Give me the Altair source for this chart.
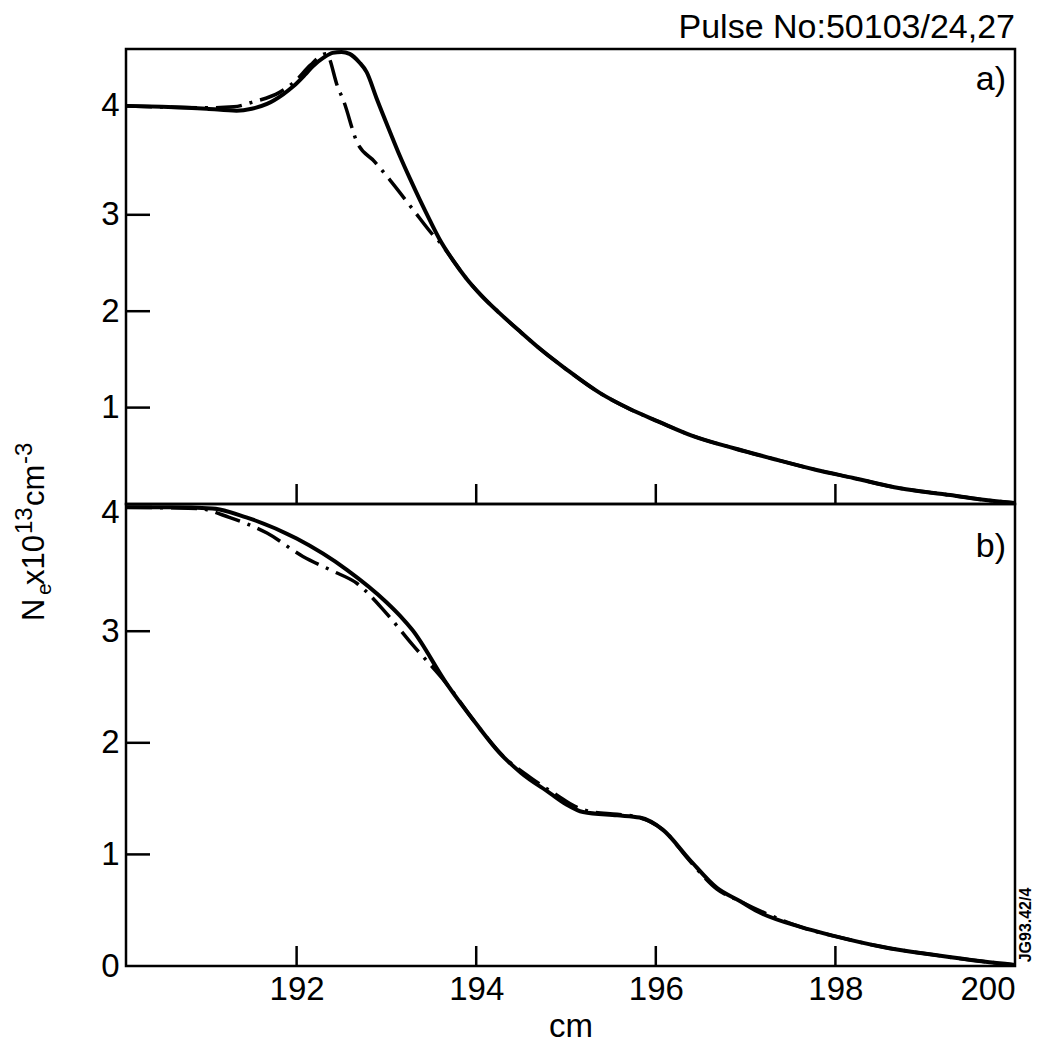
import altair as alt
import pandas as pd

# ---------------- data ----------------
# panel a) solid
x_top_solid = [190.1, 190.5, 191.0, 191.33, 191.5, 191.67, 191.85, 191.96, 192.1, 192.18, 192.3, 192.4,
               192.5, 192.59, 192.7, 192.78, 192.89, 193.04, 193.15, 193.26, 193.37, 193.48, 193.59,
               193.74, 193.89, 194.05, 194.26, 194.5, 194.71, 195.0, 195.38, 195.7, 196.03, 196.4,
               196.87, 197.3, 197.79, 198.2, 198.72, 199.28, 199.6, 200.0]
y_top_solid = [4.13, 4.12, 4.10, 4.08, 4.10, 4.15, 4.25, 4.33, 4.46, 4.54, 4.63, 4.68,
               4.69, 4.67, 4.58, 4.48, 4.21, 3.86, 3.61, 3.38, 3.16, 2.95, 2.75,
               2.53, 2.34, 2.17, 1.98, 1.78, 1.61, 1.40, 1.15, 0.99, 0.855, 0.71,
               0.578, 0.47, 0.353, 0.27, 0.163, 0.093, 0.05, 0.01]
# panel a) dash-dot
x_top_dash = [190.1, 191.0, 191.3, 191.51, 191.81, 192.0, 192.15, 192.33, 192.46, 192.52, 192.67,
              192.87, 193.04, 193.3, 193.52, 193.6, 193.74, 193.89, 194.05, 194.26, 194.5, 194.71,
              195.0, 195.38, 195.7, 196.03, 196.4, 196.87, 197.3, 197.79, 198.2, 198.72, 199.28,
              199.6, 200.0]
y_top_dash = [4.13, 4.11, 4.12, 4.17, 4.27, 4.40, 4.55, 4.67, 4.32, 4.19, 3.76,
              3.55, 3.36, 3.05, 2.79, 2.71, 2.53, 2.34, 2.17, 1.98, 1.78, 1.61,
              1.40, 1.15, 0.99, 0.855, 0.71, 0.578, 0.47, 0.353, 0.27, 0.163, 0.093,
              0.05, 0.01]
# panel b) solid
x_bot_solid = [190.1, 190.6, 191.06, 191.44, 192.0, 192.56, 193.0, 193.15, 193.29, 193.67, 194.0,
               194.26, 194.5, 194.82, 195.0, 195.19, 195.57, 195.82, 196.08, 196.38, 196.68,
               196.94, 197.13, 197.61, 197.98, 198.53, 199.09, 199.65, 200.0]
y_bot_solid = [4.11, 4.11, 4.10, 4.02, 3.83, 3.55, 3.26, 3.14, 3.01, 2.53, 2.17,
               1.91, 1.73, 1.55, 1.45, 1.38, 1.35, 1.33, 1.22, 0.95, 0.70,
               0.58, 0.49, 0.35, 0.27, 0.17, 0.10, 0.04, 0.01]
# panel b) dash-dot
x_bot_dash = [190.1, 190.9, 191.25, 191.67, 192.07, 192.4, 192.67, 193.0, 193.29, 193.67, 194.0,
              194.3, 194.6, 194.9, 195.1, 195.3, 195.57, 195.82, 196.08, 196.38, 196.68,
              196.94, 197.2, 197.61, 197.98, 198.53, 199.09, 199.65, 200.0]
y_bot_dash = [4.11, 4.10, 4.02, 3.88, 3.67, 3.54, 3.43, 3.16, 2.88, 2.53, 2.17,
              1.88, 1.69, 1.53, 1.43, 1.38, 1.36, 1.33, 1.22, 0.94, 0.69,
              0.58, 0.48, 0.35, 0.27, 0.17, 0.10, 0.04, 0.01]

x_tick_marks = [192, 194, 196, 198]
x_tick_labels = [192, 194, 196, 198, 200]
y_tick_marks = [1, 2, 3]
top_label_vals = [1, 2, 3, 4.13]
bot_label_vals = [0, 1, 2, 3, 4.06]

pulse_text = ["Pulse No:50103/24,27"]
panel_a = ["a)"]
panel_b = ["b)"]
ref_code = ["JG93.42/4"]
# y-axis title "N_e x10^13 cm^-3", written in pieces so sub/superscripts look right
y_title_parts = ["N", "e", "x10", "13", "cm", "-3"]
x_title = "cm"

# ---------------- layout ----------------
W = 889
H_TOP = 455
H_BOT = 462
X_DOMAIN = [190.1, 200]
Y_TOP_DOMAIN = [0, 4.72]
Y_BOT_DOMAIN = [0, 4.14]
FONT = "Liberation Sans"
FS = 33

# piece style: (font size, baseline x offset, anchor y in top-panel pixels)
title_style = [(31, -82, 572), (21, -75, 546), (31, -82, 536), (24, -94, 485), (31, -82, 457), (24, -94, 415)]


def lines(xs_s, ys_s, xs_d, ys_d, xscale, yscale, xaxis, yaxis):
    solid = alt.Chart(pd.DataFrame({"x": xs_s, "y": ys_s})).mark_line(
        color="black", strokeWidth=4, interpolate="monotone"
    ).encode(x=alt.X("x:Q", scale=xscale, axis=xaxis), y=alt.Y("y:Q", scale=yscale, axis=yaxis))
    dash = alt.Chart(pd.DataFrame({"x": xs_d, "y": ys_d})).mark_line(
        color="black", strokeWidth=3.5, interpolate="monotone", strokeDash=[26, 8, 3, 8]
    ).encode(x=alt.X("x:Q", scale=xscale), y=alt.Y("y:Q", scale=yscale))
    return solid, dash


def ticks(height, xscale, yscale):
    yt = alt.Chart(pd.DataFrame({"y": y_tick_marks})).mark_rule(color="black", strokeWidth=2.5).encode(
        y=alt.Y("y:Q", scale=yscale), x=alt.value(0), x2=alt.value(24)
    )
    xt = alt.Chart(pd.DataFrame({"x": x_tick_marks})).mark_rule(color="black", strokeWidth=2.5).encode(
        x=alt.X("x:Q", scale=xscale), y=alt.value(height), y2=alt.value(height - 20)
    )
    return yt, xt


def text_layer(txt, size, x, y, align="right", baseline="middle", angle=0, weight="normal"):
    return alt.Chart(pd.DataFrame({"t": [txt]})).mark_text(
        font=FONT, fontSize=size, align=align, baseline=baseline, angle=angle,
        fontWeight=weight, color="black"
    ).encode(text="t:N", x=alt.value(x), y=alt.value(y))


xs = alt.Scale(domain=X_DOMAIN, nice=False, zero=False)
ys_top = alt.Scale(domain=Y_TOP_DOMAIN, nice=False)
ys_bot = alt.Scale(domain=Y_BOT_DOMAIN, nice=False)

top_xaxis = alt.Axis(labels=False, ticks=False, domain=False, grid=False, title=None)
top_yaxis = alt.Axis(values=top_label_vals, labelExpr="format(datum.value, '.0f')", ticks=False,
                     domain=False, grid=False, labelPadding=7, labelFontSize=FS, title=None)
bot_xaxis = alt.Axis(values=x_tick_labels, format="d", ticks=False, domain=False, grid=False,
                     labelPadding=7, labelFontSize=FS, title=x_title, titleFontSize=FS,
                     titleFontWeight="normal", titlePadding=4)
bot_yaxis = alt.Axis(values=bot_label_vals, labelExpr="format(datum.value, '.0f')", ticks=False,
                     domain=False, grid=False, labelPadding=7, labelFontSize=FS, title=None)

s1, d1 = lines(x_top_solid, y_top_solid, x_top_dash, y_top_dash, xs, ys_top, top_xaxis, top_yaxis)
yt1, xt1 = ticks(H_TOP, xs, ys_top)
pulse = text_layer(pulse_text[0], 34, W, -11, baseline="alphabetic")
lab_a = text_layer(panel_a[0], 34, W - 9, 31)
title_layers = [
    text_layer(part, size, bx, ay, align="left", baseline="alphabetic", angle=270)
    for part, (size, bx, ay) in zip(y_title_parts, title_style)
]

top = alt.layer(s1, d1, yt1, xt1, pulse, lab_a, *title_layers).properties(width=W, height=H_TOP)

s2, d2 = lines(x_bot_solid, y_bot_solid, x_bot_dash, y_bot_dash, xs, ys_bot, bot_xaxis, bot_yaxis)
yt2, xt2 = ticks(H_BOT, xs, ys_bot)
lab_b = text_layer(panel_b[0], 34, W - 9, 43)
code = text_layer(ref_code[0], 16, W + 11, 421, align="center", angle=270, weight="bold")

bot = alt.layer(s2, d2, yt2, xt2, lab_b, code).properties(width=W, height=H_BOT)

chart = alt.vconcat(top, bot, spacing=0, bounds="flush").properties(
    padding={"left": 3, "top": 1, "right": 5, "bottom": 5},
).configure_view(stroke="black", strokeWidth=2.5).configure_axis(
    labelFont=FONT, titleFont=FONT, labelColor="black", titleColor="black"
)

chart.save("out.html", embed_options={"renderer": "svg", "actions": False})
